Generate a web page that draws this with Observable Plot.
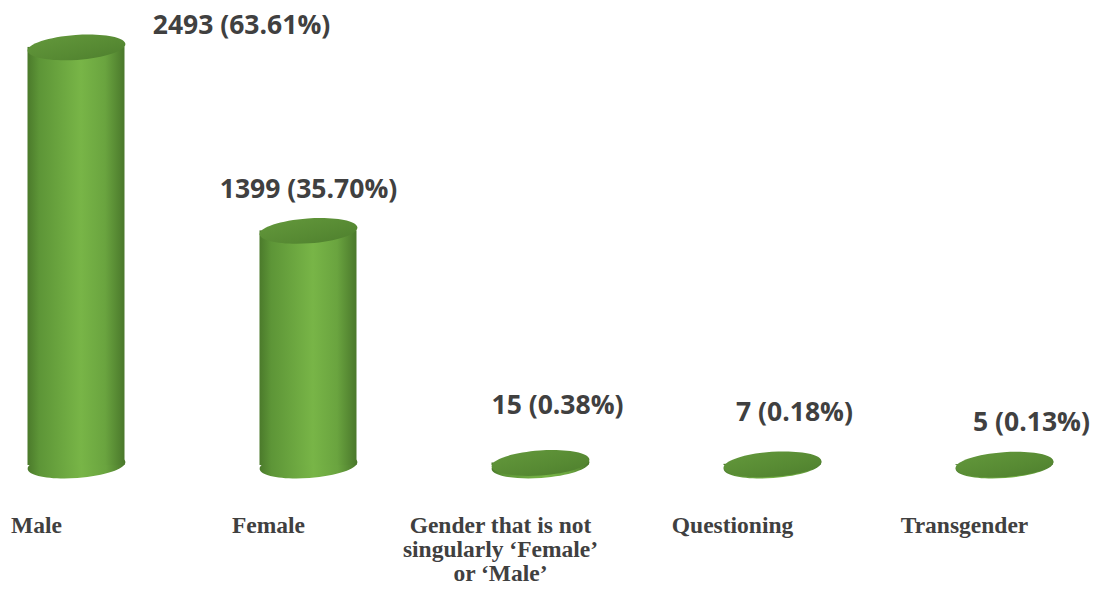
<!DOCTYPE html>
<html>
<head>
<meta charset="utf-8">
<script src="https://cdn.jsdelivr.net/npm/d3@7"></script>
<script src="https://cdn.jsdelivr.net/npm/@observablehq/plot@0.6"></script>
<style>
  html, body { margin: 0; padding: 0; background: #ffffff; }
  #chart svg { display: block; overflow: visible; }
</style>
</head>
<body>
<div id="chart"></div>
<script>
// ---- data ----
const categories = ["Male", "Female", "Gender that is not singularly ‘Female’ or ‘Male’", "Questioning", "Transgender"];
const tickLabels = ["Male", "Female", "Gender that is not\nsingularly ‘Female’\nor ‘Male’", "Questioning", "Transgender"];
const counts = [2493, 1399, 15, 7, 5];
const percents = ["63.61%", "35.70%", "0.38%", "0.18%", "0.13%"];

const data = categories.map((c, i) => ({cat: c, value: counts[i], label: `${counts[i]} (${percents[i]})`}));

// ---- layout (not data) ----
const W = 1094, H = 592;
const labelOffsets = [[165, -22], [0, -41], [17, -57], [22, -52], [27, -42]];

// rotated ellipse symbol
function ellipseSymbol(rx, ry, deg) {
  const t = deg * Math.PI / 180, c = Math.cos(t), s = Math.sin(t), k = 0.5523;
  const R = (x, y) => [x * c - y * s, x * s + y * c];
  return {
    draw(ctx) {
      ctx.moveTo(...R(rx, 0));
      const segs = [
        [[rx, k * ry], [k * rx, ry], [0, ry]],
        [[-k * rx, ry], [-rx, k * ry], [-rx, 0]],
        [[-rx, -k * ry], [-k * rx, -ry], [0, -ry]],
        [[k * rx, -ry], [rx, -k * ry], [rx, 0]]
      ];
      for (const [a, b, e] of segs) ctx.bezierCurveTo(...R(...a), ...R(...b), ...R(...e));
      ctx.closePath();
    }
  };
}
const ellipse = ellipseSymbol(49, 12.5, -4);

function defs() {
  const ns = "http://www.w3.org/2000/svg";
  const d = document.createElementNS(ns, "defs");
  d.innerHTML = `
    <linearGradient id="bodyGrad" x1="0" x2="1" y1="0" y2="0">
      <stop offset="0" stop-color="#4b7a2b"/>
      <stop offset="0.12" stop-color="#5d9537"/>
      <stop offset="0.55" stop-color="#78b547"/>
      <stop offset="0.8" stop-color="#6aa43f"/>
      <stop offset="1" stop-color="#4a782b"/>
    </linearGradient>
    <linearGradient id="topGrad" x1="0" x2="1" y1="0" y2="1">
      <stop offset="0" stop-color="#64993c"/>
      <stop offset="0.6" stop-color="#578a33"/>
      <stop offset="1" stop-color="#4d7e2d"/>
    </linearGradient>`;
  return d;
}

const plot = Plot.plot({
  width: W,
  height: H,
  marginTop: 0,
  marginLeft: 0,
  marginRight: 0,
  marginBottom: 127,
  x: {domain: categories, range: [-41.5, 1121.5], padding: 0, axis: null},
  y: {domain: [0, 2500], range: [465, 465 - 2500 * 0.1677], axis: null},
  marks: [
    defs,
    Plot.dot(data, {x: "cat", y: () => 0, symbol: ellipse, fill: "url(#bodyGrad)", stroke: "none"}),
    Plot.barY(data, {x: "cat", y: "value", fill: "url(#bodyGrad)", insetLeft: 67.5, insetRight: 67.5}),
    Plot.dot(data, {x: "cat", y: "value", symbol: ellipse, fill: "url(#topGrad)", stroke: "none"}),
    ...data.map((d, i) => Plot.text([d], {
      x: "cat", y: "value", text: "label",
      dx: labelOffsets[i][0], dy: labelOffsets[i][1],
      fontFamily: "'Open Sans', sans-serif", fontWeight: "bold", fontSize: 26.5, fill: "#404040"
    })),
    Plot.axisX({
      tickSize: 0, tickPadding: 50, dx: -40, label: null,
      tickFormat: (c) => tickLabels[categories.indexOf(c)],
      fontFamily: "'Liberation Serif', 'Times New Roman', serif", fontWeight: "bold",
      fontSize: 23.5, lineHeight: 1.03, fill: "#404040"
    })
  ]
});
document.getElementById("chart").appendChild(plot);
</script>
</body>
</html>
